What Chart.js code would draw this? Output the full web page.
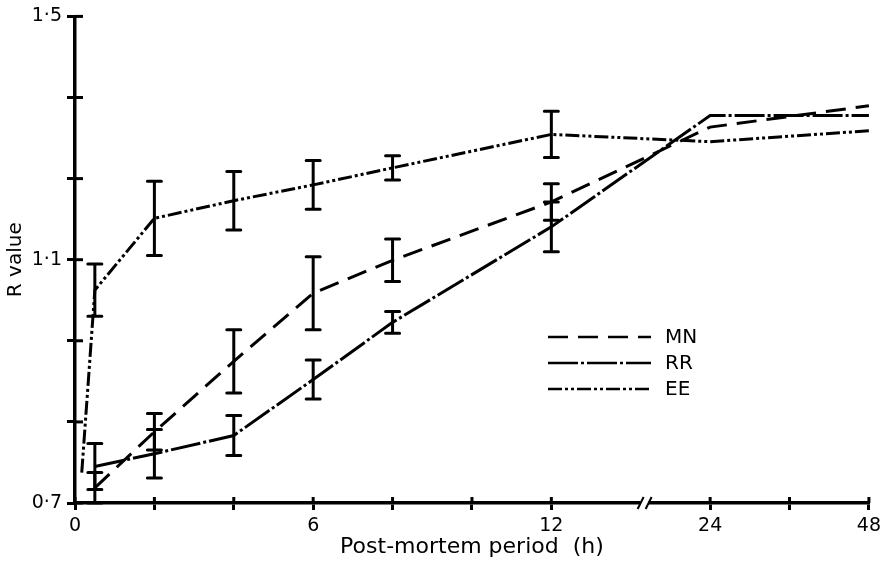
<!DOCTYPE html>
<html lang="en">
<head>
<meta charset="UTF-8">
<title>R value vs post-mortem period</title>
<script src="https://cdn.jsdelivr.net/npm/chart.js"></script>
<style>
    body {
        margin: 0;
        background: white;
    }
</style>
</head>
<body>
<canvas id="myChart" width="886" height="561"></canvas>
<script>
    // values (hours after death, R value)
    const hours = [0.5, 2, 4, 6, 8, 12, 24, 48];
    const hoursEE = [0.17, 0.5, 2, 4, 6, 8, 12, 24, 48];

    const mn = [0.725, 0.817, 0.933, 1.045, 1.099, 1.195, 1.318, 1.353];
    const mnErr = [0.025, 0.03, 0.052, 0.06, 0.035, 0.03, null, null];

    const rr = [0.76, 0.781, 0.811, 0.903, 0.997, 1.154, 1.337, 1.337];
    const rrErr = [0.038, 0.04, 0.033, 0.032, 0.018, 0.041, null, null];

    const ee = [0.75, 1.05, 1.168, 1.197, 1.223, 1.251, 1.306, 1.294, 1.312];
    const eeErr = [null, 0.043, 0.061, 0.048, 0.04, 0.02, 0.038, null, null];

    const xTicks = [0, 2, 4, 6, 8, 10, 12, 24, 36, 48];
    const xLabels = ['0', '', '', '6', '', '', '12', '24', '', '48'];
    const yTicks = [0.7, 0.8333, 0.9667, 1.1, 1.2333, 1.3667, 1.5];
    const yLabels = ['0·7', '', '', '1·1', '', '', '1·5'];

    // x axis is broken after 12 h: from 24 h on, 6 h take the room of 1 h
    function pos(h) {
        return h <= 12 ? h : 16 + (h - 24) / 6;
    }
    function points(hs, vals) {
        return hs.map((h, i) => ({ x: pos(h), y: vals[i] }));
    }

    const FONT = 'DejaVu Sans';
    Chart.defaults.font.family = FONT;
    Chart.defaults.color = '#000';

    // error bars, tick crosses, axis break and the legend
    const extras = {
        id: 'extras',
        afterDatasetsDraw(chart) {
            const ctx = chart.ctx;
            const xs = chart.scales.x, ys = chart.scales.y;
            ctx.save();
            ctx.strokeStyle = '#000';
            ctx.lineWidth = 3;
            ctx.lineCap = 'round';
            chart.data.datasets.forEach(ds => {
                ds.hours.forEach((h, i) => {
                    const e = ds.err[i];
                    if (e == null) return;
                    const px = xs.getPixelForValue(pos(h));
                    const top = ys.getPixelForValue(ds.vals[i] + e);
                    const bot = ys.getPixelForValue(ds.vals[i] - e);
                    ctx.beginPath();
                    ctx.moveTo(px, top); ctx.lineTo(px, bot);
                    ctx.moveTo(px - 7, top); ctx.lineTo(px + 7, top);
                    ctx.moveTo(px - 7, bot); ctx.lineTo(px + 7, bot);
                    ctx.stroke();
                });
            });
            ctx.restore();
        },
        afterDraw(chart) {
            const ctx = chart.ctx;
            const xs = chart.scales.x, ys = chart.scales.y;
            const area = chart.chartArea;
            ctx.save();
            ctx.strokeStyle = '#000';
            ctx.lineWidth = 3;
            // inner half of tick marks
            xTicks.forEach(h => {
                const px = xs.getPixelForValue(pos(h));
                ctx.beginPath();
                ctx.moveTo(px, area.bottom - 6); ctx.lineTo(px, area.bottom);
                ctx.stroke();
            });
            yTicks.forEach(v => {
                const py = ys.getPixelForValue(v);
                ctx.beginPath();
                ctx.moveTo(area.left, py); ctx.lineTo(area.left + 8, py);
                ctx.stroke();
            });
            // axis break
            const bx = xs.getPixelForValue(14.35);
            ctx.fillStyle = '#fff';
            ctx.fillRect(bx - 4, area.bottom - 4, 8, 8);
            ctx.lineWidth = 2;
            ctx.beginPath();
            ctx.moveTo(bx - 7, area.bottom + 6); ctx.lineTo(bx - 1, area.bottom - 6);
            ctx.moveTo(bx + 1, area.bottom + 6); ctx.lineTo(bx + 7, area.bottom - 6);
            ctx.stroke();
            // legend
            const lx = 548, lx2 = 651;
            ctx.lineWidth = 2.5;
            ctx.font = '20px ' + FONT;
            ctx.fillStyle = '#000';
            ctx.textBaseline = 'middle';
            chart.data.datasets.forEach((ds, i) => {
                const ly = 337 + i * 26;
                ctx.setLineDash(ds.borderDash);
                ctx.beginPath();
                ctx.moveTo(lx, ly); ctx.lineTo(lx2, ly);
                ctx.stroke();
                ctx.setLineDash([]);
                ctx.fillText(ds.label, 665, ly + 1);
            });
            ctx.restore();
        }
    };

    const ctx = document.getElementById('myChart').getContext('2d');
    const myChart = new Chart(ctx, {
        type: 'line',
        data: {
            datasets: [
                { label: 'MN', data: points(hours, mn), hours: hours, vals: mn, err: mnErr, borderDash: [20, 10] },
                { label: 'RR', data: points(hours, rr), hours: hours, vals: rr, err: rrErr, borderDash: [30, 3, 3, 3] },
                { label: 'EE', data: points(hoursEE, ee), hours: hoursEE, vals: ee, err: eeErr, borderDash: [14, 3, 3, 3, 3, 3] }
            ].map(d => Object.assign(d, {
                borderColor: '#000',
                borderWidth: 3,
                pointRadius: 0,
                tension: 0,
                fill: false,
                clip: false
            }))
        },
        plugins: [extras],
        options: {
            responsive: false,
            animation: false,
            devicePixelRatio: 1,
            layout: { padding: { top: 13, right: 10, left: 0, bottom: 0 } },
            plugins: {
                legend: { display: false },
                tooltip: { enabled: false }
            },
            scales: {
                x: {
                    type: 'linear',
                    min: 0,
                    max: 20,
                    afterBuildTicks: s => { s.ticks = xTicks.map(h => ({ value: pos(h) })); },
                    afterFit: s => { s.height = 58; },
                    border: { display: true, color: '#000', width: 3.5 },
                    grid: { display: true, drawOnChartArea: false, drawTicks: true, tickLength: 7, color: '#000', lineWidth: 3 },
                    ticks: {
                        autoSkip: false,
                        maxRotation: 0,
                        padding: 5,
                        font: { size: 19 },
                        callback: (v, i) => xLabels[i]
                    },
                    title: { display: true, text: 'Post-mortem period  (h)', font: { size: 22 }, padding: { top: 0, bottom: 1 } }
                },
                y: {
                    type: 'linear',
                    min: 0.7,
                    max: 1.5,
                    afterBuildTicks: s => { s.ticks = yTicks.map(v => ({ value: v })); },
                    afterFit: s => { s.width = 75; },
                    border: { display: true, color: '#000', width: 3.5 },
                    grid: { display: true, drawOnChartArea: false, drawTicks: true, tickLength: 8, color: '#000', lineWidth: 3 },
                    ticks: {
                        autoSkip: false,
                        padding: 5,
                        font: { size: 19 },
                        callback: (v, i) => yLabels[i]
                    },
                    title: { display: true, text: 'R value', font: { size: 20 }, padding: { top: 4, bottom: 0 } }
                }
            }
        }
    });
</script>
</body>
</html>
